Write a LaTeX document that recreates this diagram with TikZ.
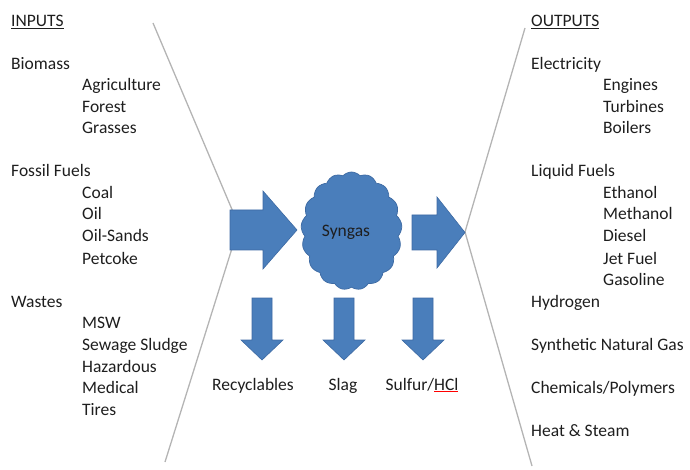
\documentclass[tikz,border=0pt]{standalone}
\usepackage{fontspec}
\setmainfont{Carlito}
\usetikzlibrary{shapes.symbols}
\definecolor{blu}{HTML}{4A7EBB}
\definecolor{blud}{HTML}{3D6AA3}
\definecolor{txtc}{HTML}{1E1E1E}
\definecolor{linec}{HTML}{B4B4B4}
\newcommand\redunderline[1]{\leavevmode\setbox0\hbox{#1}\rlap{\color{red}\rule[-2.2pt]{\wd0}{0.9pt}}\box0}
\begin{document}
\begin{tikzpicture}[x=1pt,y=-1pt,
  txt/.style={anchor=base west, inner sep=0pt, text=txtc, font=\fontsize{17.5}{21}\selectfont},
  ctxt/.style={anchor=base, inner sep=0pt, text=txtc, font=\fontsize{17.5}{21}\selectfont},
  guide/.style={draw=linec, line width=1.3pt},
  blockarrow/.style={fill=blu, draw=blud, line width=0.6pt, line join=miter}]
\useasboundingbox (0,0) rectangle (690,470);
% guide lines
\coordinate (lt) at (153,23);
\coordinate (lv) at (239,226);
\coordinate (lb) at (165,462);
\coordinate (rt) at (525,28);
\coordinate (rv) at (465,232);
\coordinate (rb) at (532,466);
\draw[guide] (lt) -- (lv) -- (lb);
\draw[guide] (rt) -- (rv) -- (rb);
% inputs
\node[txt] (inputs) at (11,27) {\underline{INPUTS}};
\node[txt] (biomass) at (11,70) {Biomass};
\node[txt] (agri) at (82,91) {Agriculture};
\node[txt] (forest) at (82,113) {Forest};
\node[txt] (grass) at (82,134) {Grasses};
\node[txt] (fossil) at (11,177) {Fossil Fuels};
\node[txt] (coal) at (82,199) {Coal};
\node[txt] (oil) at (82,220) {Oil};
\node[txt] (oilsands) at (82,242) {Oil-Sands};
\node[txt] (petcoke) at (82,264) {Petcoke};
\node[txt] (wastes) at (11,307) {Wastes};
\node[txt] (msw) at (82,328) {MSW};
\node[txt] (sewage) at (82,350) {Sewage Sludge};
\node[txt] (haz) at (82,372) {Hazardous};
\node[txt] (med) at (82,393) {Medical};
\node[txt] (tires) at (82,415) {Tires};
% outputs
\node[txt] (outputs) at (531,27) {\underline{OUTPUTS}};
\node[txt] (elec) at (531,70) {Electricity};
\node[txt] (engines) at (603,91) {Engines};
\node[txt] (turb) at (603,113) {Turbines};
\node[txt] (boil) at (603,134) {Boilers};
\node[txt] (liquid) at (531,177) {Liquid Fuels};
\node[txt] (ethanol) at (603,199) {Ethanol};
\node[txt] (methanol) at (603,220) {Methanol};
\node[txt] (diesel) at (603,242) {Diesel};
\node[txt] (jet) at (603,264) {Jet Fuel};
\node[txt] (gasoline) at (603,285) {Gasoline};
\node[txt] (hydrogen) at (531,307) {Hydrogen};
\node[txt] (sng) at (531,350) {Synthetic Natural Gas};
\node[txt] (chem) at (531,393) {Chemicals/Polymers};
\node[txt] (heat) at (531,436) {Heat \& Steam};
% left arrow
\draw[blockarrow] (230,210) -- (263,210) -- (263,191) -- (297,230) -- (263,269) -- (263,250) -- (230,250) -- cycle;
% right arrow
\draw[blockarrow] (412,215) -- (437,215) -- (437,197) -- (465,232.5) -- (437,268) -- (437,250) -- (412,250) -- cycle;
% cloud
\node[cloud, cloud puffs=17, cloud puff arc=95, aspect=0.86, fill=blu, draw=blud, line width=0.7pt,
      minimum width=101pt, minimum height=118pt, inner sep=0pt] (syngas) at (351.5,231) {};
\node[ctxt, anchor=center] (syngaslbl) at (346,232) {Syngas};
% down arrows
\foreach \cx/\nm in {262/a1, 344/a2, 423/a3}{
  \draw[blockarrow] (\cx-10,298) -- (\cx+10,298) -- (\cx+10,340) -- (\cx+21,340) -- (\cx,360) -- (\cx-21,340) -- (\cx-10,340) -- cycle;
}
\node[ctxt] (recyc) at (253,390) {Recyclables};
\node[ctxt] (slag) at (343,390) {Slag};
\node[ctxt] (sulfur) at (422,390) {Sulfur/\redunderline{HCl}};
\end{tikzpicture}
\end{document}
